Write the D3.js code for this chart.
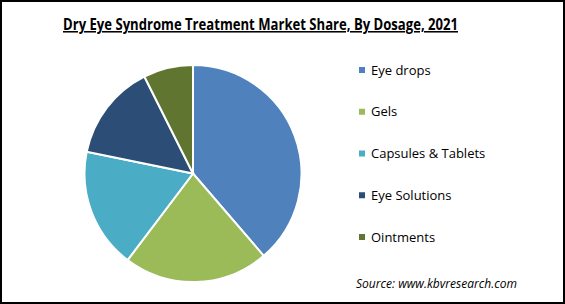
<!DOCTYPE html>
<html>
<head>
<meta charset="utf-8">
<script src="https://cdn.jsdelivr.net/npm/d3@7"></script>
<style>
  body { margin: 0; background: #fff; }
  svg { display: block; font-family: "Open Sans", sans-serif; }
</style>
</head>
<body>
<script>
const categories = ["Eye drops", "Gels", "Capsules & Tablets", "Eye Solutions", "Ointments"];
const shares = [38.7, 21.6, 17.9, 14.4, 7.4];
const colors = ["#4F81BD", "#9BBB59", "#4BACC6", "#2C4D75", "#5F7530"];

const chart = {
    width: 565,
    height: 304,
    cx: 193,
    cy: 173.5,
    radius: 108.5
};

const svg = d3.select("body").append("svg")
    .attr("width", chart.width)
    .attr("height", chart.height);

// frame
svg.append("rect")
    .attr("x", 1).attr("y", 1)
    .attr("width", chart.width - 2).attr("height", chart.height - 2)
    .attr("fill", "#fff")
    .attr("stroke", "#000")
    .attr("stroke-width", 2);

// title is narrower in the original (Calibri), squeeze to fit
svg.append("text")
    .attr("x", 63).attr("y", 30)
    .attr("font-size", 15.5)
    .attr("font-weight", "bold")
    .attr("text-decoration", "underline")
    .attr("textLength", 395)
    .attr("lengthAdjust", "spacingAndGlyphs")
    .attr("fill", "#000")
    .text("Dry Eye Syndrome Treatment Market Share, By Dosage, 2021");

const pie = d3.pie().sort(null).value(d => d);
const arc = d3.arc().innerRadius(0).outerRadius(chart.radius);

svg.append("g")
    .attr("transform", "translate(" + chart.cx + "," + chart.cy + ")")
    .selectAll("path")
    .data(pie(shares))
    .enter()
    .append("path")
    .attr("d", arc)
    .attr("fill", (d, i) => colors[i])
    .attr("stroke", "#fff")
    .attr("stroke-width", 2);

const color = d3.scaleOrdinal().domain(categories).range(colors);
const legendY = d3.scalePoint().domain(categories).range([70, 237]);

const legend = svg.append("g")
    .selectAll("g")
    .data(categories)
    .enter()
    .append("g")
    .attr("transform", d => "translate(359," + legendY(d) + ")");

legend.append("rect")
    .attr("x", 0).attr("y", -3)
    .attr("width", 6).attr("height", 6)
    .attr("fill", d => color(d));

legend.append("text")
    .attr("x", 12).attr("y", 4.5)
    .attr("font-size", 13)
    .attr("fill", "#000")
    .text(d => d);

svg.append("text")
    .attr("x", 356).attr("y", 288)
    .attr("font-size", 12)
    .attr("font-style", "italic")
    .attr("textLength", 161)
    .attr("lengthAdjust", "spacingAndGlyphs")
    .attr("fill", "#000")
    .text("Source:  www.kbvresearch.com");
</script>
</body>
</html>
